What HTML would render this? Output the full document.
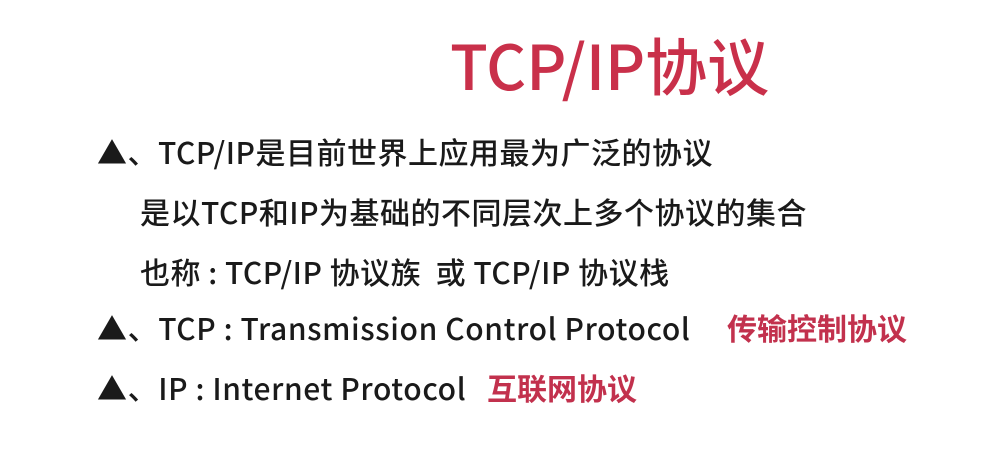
<!DOCTYPE html>
<html><head><meta charset="utf-8">
<style>
html,body{margin:0;padding:0;background:#fff;}
body{width:1000px;height:456px;position:relative;overflow:hidden;font-family:"Liberation Sans","Noto Sans CJK SC",sans-serif;}
.t{position:absolute;white-space:nowrap;font-family:"Noto Sans CJK SC","Liberation Sans",sans-serif;color:#1a1a1a;font-size:30px;line-height:1;font-weight:500;letter-spacing:0.5px;}
.r{color:#c2314d;}
</style></head><body>
<div class="t r" style="left:450px;top:32px;font-size:62px;color:#c9304a;letter-spacing:0;">TCP/IP协议</div>
<div class="t" style="left:97px;top:136px;">▲、TCP/IP是目前世界上应用最为广泛的协议</div>
<div class="t" style="left:140px;top:196px;">是以TCP和IP为基础的不同层次上多个协议的集合</div>
<div class="t" style="left:140px;top:256px;">也称 : TCP/IP 协议族&nbsp; 或 TCP/IP 协议栈</div>
<div class="t" style="left:97px;top:312px;letter-spacing:0.6px;">▲、TCP : Transmission Control Protocol</div>
<div class="t r" style="left:727px;top:312px;font-weight:700;letter-spacing:0;">传输控制协议</div>
<div class="t" style="left:97px;top:372px;letter-spacing:0.6px;">▲、IP : Internet Protocol</div>
<div class="t r" style="left:487px;top:372px;font-weight:700;letter-spacing:0;">互联网协议</div>
</body></html>
